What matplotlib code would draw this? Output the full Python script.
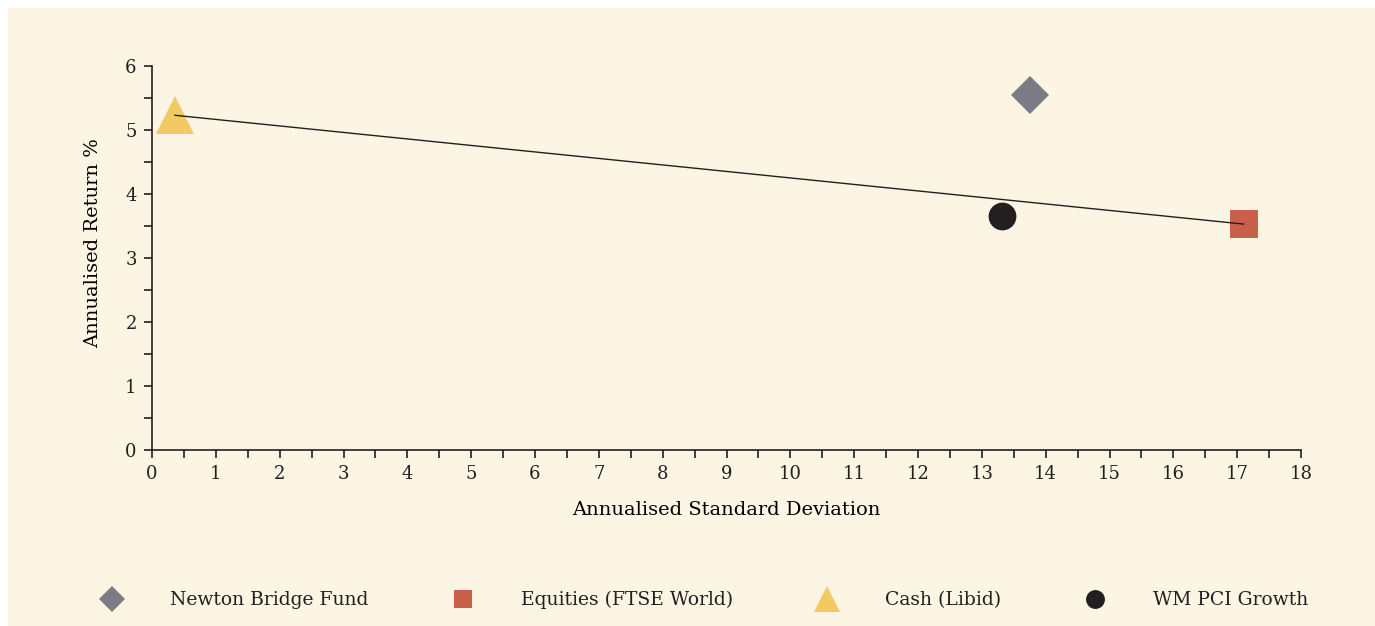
import matplotlib.pyplot as plt
from matplotlib.patches import Rectangle
from matplotlib.ticker import MultipleLocator

# values
funds = ["Newton Bridge Fund", "Equities (FTSE World)", "Cash (Libid)", "WM PCI Growth"]
std_dev = [13.76, 17.10, 0.36, 13.31]
returns = [5.55, 3.53, 5.23, 3.65]

fund_markers = {
    "Newton Bridge Fund": ("D", 19, "#7b7c86"),
    "Equities (FTSE World)": ("s", 19.5, "#c9614a"),
    "Cash (Libid)": ("^", 27, "#f2c962"),
    "WM PCI Growth": ("o", 20, "#231f20"),
}

# the line joins cash and equities
line_funds = ["Cash (Libid)", "Equities (FTSE World)"]

bg = "#fdf5e4"
ink = "#231f20"
plt.rcParams["font.family"] = ["DejaVu Serif"]
plt.rcParams["text.color"] = ink

fig = plt.figure(figsize=(13.75, 6.26), dpi=100, facecolor="white")
fig.patches.append(
    Rectangle((8 / 1375, 0), 1, 1 - 8 / 626, transform=fig.transFigure,
              facecolor=bg, edgecolor="none", zorder=-10)
)
ax = fig.add_axes([152 / 1375, 1 - 450 / 626, 1149 / 1375, 384 / 626])
ax.set_facecolor(bg)

lx = [std_dev[funds.index(f)] for f in line_funds]
ly = [returns[funds.index(f)] for f in line_funds]

handles = []
for name, x, y in zip(funds, std_dev, returns):
    m, ms, c = fund_markers[name]
    (h,) = ax.plot(x, y, linestyle="none", marker=m, markersize=ms, color=c,
                   markeredgewidth=0, clip_on=False, zorder=3, label=name)
    handles.append(h)

ax.plot(lx, ly, color=ink, linewidth=1.0, zorder=4)

ax.set_xlim(0, 18)
ax.set_ylim(0, 6)
ax.xaxis.set_major_locator(MultipleLocator(1))
ax.xaxis.set_minor_locator(MultipleLocator(0.5))
ax.yaxis.set_major_locator(MultipleLocator(1))
ax.yaxis.set_minor_locator(MultipleLocator(0.5))

for s in ["top", "right"]:
    ax.spines[s].set_visible(False)
for s in ["left", "bottom"]:
    ax.spines[s].set_color(ink)
    ax.spines[s].set_linewidth(1.2)

ax.tick_params(which="both", direction="out", length=6, width=1.2, color=ink,
               labelsize=13, labelcolor=ink, pad=5)

ax.set_xlabel("Annualised Standard Deviation", fontsize=14, labelpad=13)
ax.set_ylabel("Annualised Return %", fontsize=14, labelpad=12)
ax.yaxis.set_label_coords(-0.043, 0.54)

fig.legend(handles=handles, loc="center", bbox_to_anchor=(0.513, 1 - 600 / 626),
           ncol=4, frameon=False, fontsize=13.5, markerscale=0.68,
           handletextpad=2.6, columnspacing=4.5, handlelength=1.0)

plt.savefig("out.png", dpi=100, facecolor="white")
